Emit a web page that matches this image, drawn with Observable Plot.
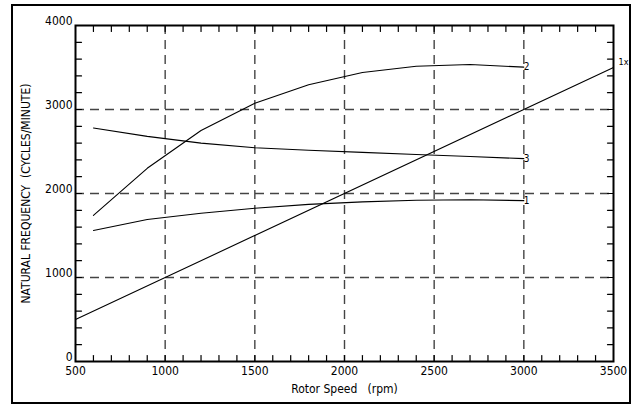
<!DOCTYPE html>
<html>
<head>
<meta charset="utf-8">
<script src="https://cdn.jsdelivr.net/npm/d3@7"></script>
<script src="https://cdn.jsdelivr.net/npm/@observablehq/plot@0.6"></script>
<style>
  body { margin: 0; background: #fff; }
  #wrap { position: relative; width: 638px; height: 405px; }
  #border { position: absolute; left: 11px; top: 4px; width: 616px; height: 396px; border: 2.5px solid #000; pointer-events: none; }
  svg text { font-family: "DejaVu Sans Condensed", "DejaVu Sans", sans-serif; }
</style>
</head>
<body>
<div id="wrap"><div id="border"></div></div>
<script>
const speeds = [600, 900, 1200, 1500, 1800, 2100, 2400, 2700, 3000];
const mode1 = [1560, 1690, 1765, 1825, 1870, 1900, 1920, 1925, 1915];
const mode2 = [1740, 2300, 2750, 3075, 3295, 3440, 3515, 3535, 3505];
const mode3 = [2780, 2680, 2600, 2545, 2515, 2490, 2465, 2440, 2415];
const modeNames = ["1", "2", "3"];
const excitation = [500, 3500];
const excitationLabel = "1x";
const xTicks = [500, 1000, 1500, 2000, 2500, 3000, 3500];
const yTicks = [0, 1000, 2000, 3000, 4000];
const xGrid = [1000, 1500, 2000, 2500, 3000];
const yGrid = [1000, 2000, 3000];
const xMinor = d3.range(600, 3500, 100);
const yMinor = d3.range(200, 4000, 200);

const series = [mode1, mode2, mode3];
const rows = series.flatMap((vals, i) => vals.map((v, j) => ({mode: modeNames[i], speed: speeds[j], freq: v})));
const ends = series.map((vals, i) => ({mode: modeNames[i], speed: speeds[speeds.length - 1], freq: vals[vals.length - 1]}));
const exRows = excitation.map(s => ({speed: s, freq: s}));

const line = {draw(ctx, l) { ctx.moveTo(0, 0); ctx.lineTo(0, -l); }};
const tickLen = 6;

const chart = Plot.plot({
  width: 638,
  height: 405,
  marginLeft: 75,
  marginRight: 25,
  marginTop: 25,
  marginBottom: 44,
  style: {fontSize: "12px", background: "transparent"},
  x: {domain: [500, 3500]},
  y: {domain: [0, 4000]},
  marks: [
    Plot.ruleX(xGrid, {stroke: "#444", strokeWidth: 1.4, strokeDasharray: "9,6"}),
    Plot.ruleY(yGrid, {stroke: "#444", strokeWidth: 1.4, strokeDasharray: "9,6"}),
    Plot.vector(xMinor, {x: d => d, frameAnchor: "bottom", length: tickLen, rotate: 0, anchor: "start", shape: line, stroke: "#000", strokeWidth: 1.2}),
    Plot.vector(xMinor, {x: d => d, frameAnchor: "top", length: tickLen, rotate: 180, anchor: "start", shape: line, stroke: "#000", strokeWidth: 1.2}),
    Plot.vector(yMinor, {y: d => d, frameAnchor: "left", length: tickLen, rotate: 90, anchor: "start", shape: line, stroke: "#000", strokeWidth: 1.2}),
    Plot.vector(yMinor, {y: d => d, frameAnchor: "right", length: tickLen, rotate: 270, anchor: "start", shape: line, stroke: "#000", strokeWidth: 1.2}),
    Plot.line(rows, {x: "speed", y: "freq", z: "mode", stroke: "#000", strokeWidth: 1.1}),
    Plot.line(exRows, {x: "speed", y: "freq", stroke: "#000", strokeWidth: 1.1}),
    Plot.text(ends, {x: "speed", y: "freq", text: "mode", textAnchor: "start", dx: 0, fontSize: 10}),
    Plot.text(exRows.slice(-1), {x: "speed", y: "freq", text: () => excitationLabel, textAnchor: "start", dx: 5, dy: -5, fontSize: 9}),
    Plot.frame({stroke: "#000", strokeWidth: 2}),
    Plot.axisX({ticks: xTicks, tickSize: 0, tickPadding: 5, tickFormat: d => String(d),
      label: "Rotor Speed\u00a0\u00a0\u00a0(rpm)", labelAnchor: "center", labelArrow: "none", labelOffset: 31, fontSize: 12}),
    Plot.axisY({ticks: yTicks, tickSize: 0, tickPadding: 3, tickFormat: d => String(d), lineAnchor: "bottom", dy: -1,
      label: "NATURAL FREQUENCY  (CYCLES/MINUTE)", labelAnchor: "center", labelArrow: "none", labelOffset: 54, fontSize: 12})
  ]
});
document.getElementById("wrap").prepend(chart);
</script>
</body>
</html>
